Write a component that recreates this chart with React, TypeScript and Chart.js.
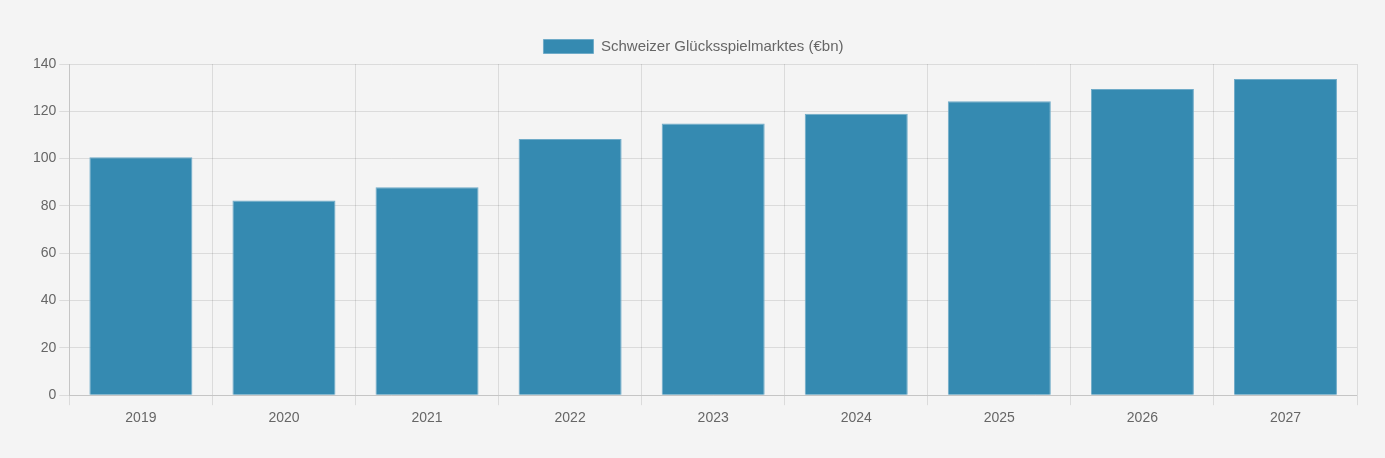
import React, { useEffect, useRef } from "react";
import { Chart, registerables } from "chart.js";

Chart.register(...registerables);

const categories = ["2019", "2020", "2021", "2022", "2023", "2024", "2025", "2026", "2027"];
const marketValues = [100.6, 82.3, 87.9, 108.3, 114.8, 119.0, 124.3, 129.4, 133.7];
const seriesLabel = "Schweizer Glücksspielmarktes (€bn)";

const FONT = "'Liberation Sans', Arial, sans-serif";

export default function App() {
  const ref = useRef<HTMLCanvasElement | null>(null);

  useEffect(() => {
    document.body.style.background = "#f4f4f4";
    const ctx = ref.current!.getContext("2d")!;
    const chart = new Chart(ctx, {
      type: "bar",
      data: {
        labels: categories,
        datasets: [
          {
            label: seriesLabel,
            data: marketValues,
            backgroundColor: "#358ab1",
            borderColor: "#6fabc8",
            borderWidth: 1,
          },
        ],
      },
      options: {
        animation: false,
        responsive: true,
        maintainAspectRatio: false,
        layout: { padding: { top: 20, left: 22, right: 20, bottom: 18 } },
        plugins: {
          legend: {
            labels: {
              boxWidth: 50,
              boxHeight: 14,
              padding: 11,
              color: "#666",
              font: { family: FONT, size: 15 },
            },
          },
          tooltip: { enabled: false },
        },
        scales: {
          x: {
            grid: { color: "rgba(0,0,0,0.1)", tickLength: 10 },
            ticks: {
              padding: 5,
              color: "#666",
              font: { family: FONT, size: 14 },
            },
          },
          y: {
            min: 0,
            max: 140,
            grid: { color: "rgba(0,0,0,0.1)", tickLength: 10 },
            ticks: {
              stepSize: 20,
              color: "#666",
              font: { family: FONT, size: 14 },
            },
          },
        },
      },
    });
    return () => chart.destroy();
  }, []);

  return (
    <div style={{ width: 1369, height: 442, background: "#f4f4f4" }}>
      <canvas ref={ref} />
    </div>
  );
}
